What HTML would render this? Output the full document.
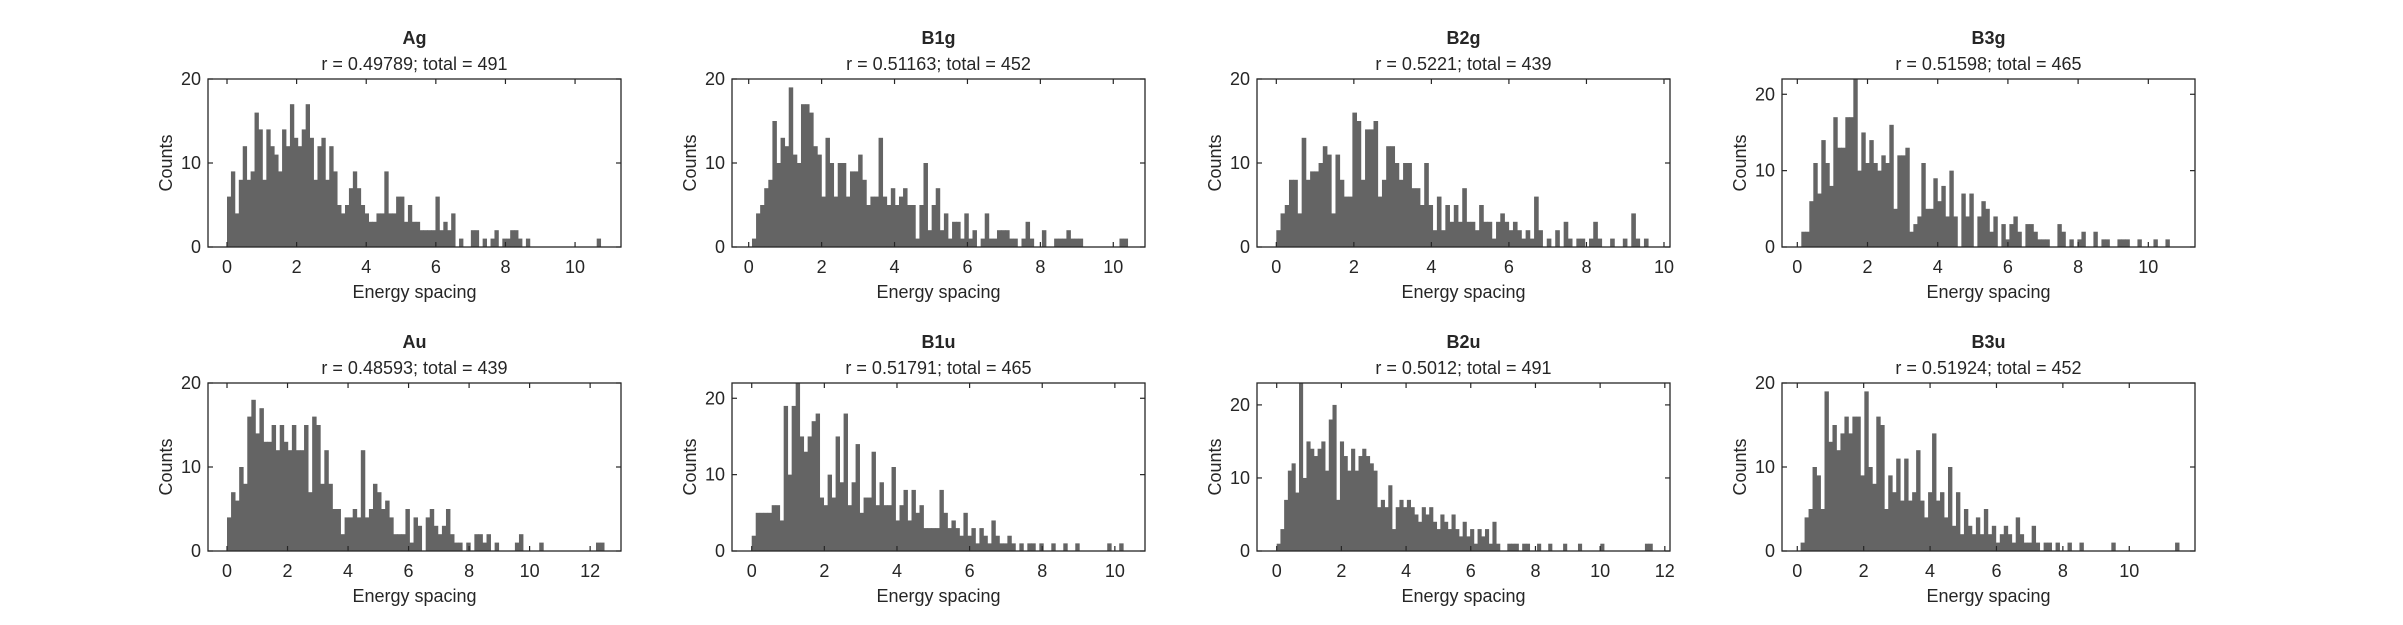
<!DOCTYPE html>
<html><head><meta charset="utf-8">
<style>
html,body{margin:0;padding:0;background:#fff;}
svg{display:block;}
text{font-family:"Liberation Sans",Arial,sans-serif;fill:#262626;}
</style></head>
<body>
<svg id="fig" width="2403" height="625" viewBox="0 0 2403 625" xmlns="http://www.w3.org/2000/svg"></svg>
<script>
// ---- data ----
const panelNames = ["Ag","B1g","B2g","B3g","Au","B1u","B2u","B3u"];
const subtitles = ["r = 0.49789; total = 491","r = 0.51163; total = 452","r = 0.5221; total = 439","r = 0.51598; total = 465",
                   "r = 0.48593; total = 439","r = 0.51791; total = 465","r = 0.5012; total = 491","r = 0.51924; total = 452"];
const binStart = [0, 0.09, 0, 0.114, 0, 0, 0, 0.1];
const binWidth = [0.113, 0.112, 0.109, 0.114, 0.134, 0.11, 0.115, 0.12];
const xMin = [-0.546, -0.458, -0.498, -0.436, -0.628, -0.543, -0.609, -0.46];
const xMax = [11.32, 10.87, 10.155, 11.33, 13.02, 10.83, 12.16, 11.98];
const yMax = [20, 20, 20, 22, 20, 22, 23, 20];
const countsAg = [6,9,4,8,12,8,9,16,14,8,14,12,11,9,14,12,17,13,12,14,17,13,8,12,13,8,12,9,5,4,5,7,9,7,5,4,3,3,4,4,9,4,4,6,6,3,5,3,3,2,2,2,2,6,2,3,2,4,0,1,0,0,2,2,0,1,0,1,2,0,1,1,2,2,1,0,1,0,0,0,0,0,0,0,0,0,0,0,0,0,0,0,0,0,1];
const countsB1g = [1,4,5,7,8,15,10,13,12,19,11,10,17,17,16,12,11,6,13,10,6,10,10,6,9,9,11,8,5,6,6,13,6,5,7,5,6,7,5,5,1,5,10,2,5,7,2,4,1,3,3,1,4,1,2,0,1,4,1,1,2,2,2,1,1,0,1,3,1,0,0,2,0,0,1,1,1,2,1,1,1,0,0,0,0,0,0,0,0,0,1,1];
const countsB2g = [2,4,5,8,8,4,13,8,9,9,10,12,11,4,11,8,6,6,16,15,8,14,14,15,6,8,12,12,10,8,10,10,7,7,5,10,5,2,6,2,5,3,5,3,7,3,3,2,5,3,3,1,3,4,3,2,3,2,1,2,1,6,2,0,1,0,2,0,3,1,0,1,1,0,1,3,1,0,0,1,0,0,1,0,4,1,0,1];
const countsB3g = [2,2,6,11,7,14,11,8,17,13,13,17,17,22,10,15,11,14,11,10,12,11,16,5,12,12,13,2,3,4,11,5,5,9,6,8,4,10,4,0,7,4,7,0,4,6,5,2,4,0,3,1,3,4,2,0,3,3,2,1,1,1,0,0,3,2,0,1,0,1,2,0,0,2,0,1,1,0,0,1,1,1,0,0,1,0,0,0,1,0,0,1];
const countsAu = [4,7,6,10,8,16,18,14,17,13,13,15,12,15,13,12,15,12,12,15,7,16,15,8,12,8,5,5,2,4,4,5,4,12,4,5,8,7,5,6,4,2,2,2,5,1,4,3,0,4,5,3,2,3,5,2,1,1,0,1,0,2,2,1,2,0,1,0,0,0,0,1,2,0,0,0,0,1,0,0,0,0,0,0,0,0,0,0,0,0,0,1,1];
const countsB1u = [2,5,5,5,5,6,6,4,19,10,19,22,15,13,15,17,18,7,6,10,7,15,9,18,6,9,14,5,7,7,13,6,9,6,6,11,4,6,8,4,8,5,6,3,3,3,3,8,5,3,4,3,2,5,2,3,1,3,2,1,4,2,1,1,2,1,0,1,0,1,1,0,1,0,0,1,0,0,1,0,0,1,0,0,0,0,0,0,0,1,0,0,1];
const countsB2u = [1,3,7,11,12,8,23,10,15,14,13,14,15,11,18,20,7,15,13,11,14,11,13,14,13,12,11,6,7,6,9,3,6,7,6,7,6,5,4,6,5,6,4,3,5,4,3,5,3,2,4,2,3,1,3,2,3,1,4,1,0,0,1,1,1,0,1,1,0,0,1,0,0,1,0,0,0,1,0,0,0,1,0,0,0,0,0,1,0,0,0,0,0,0,0,0,0,0,0,1,1];
const countsB3u = [1,4,5,10,9,5,19,13,15,12,14,16,14,16,16,9,19,10,8,16,15,5,9,7,11,6,11,6,7,12,6,4,7,14,6,7,4,10,3,7,2,5,3,2,4,2,5,2,3,1,2,3,2,1,4,2,1,1,3,1,0,1,1,0,1,0,0,1,0,0,1,0,0,0,0,0,0,0,1,0,0,0,0,0,0,0,0,0,0,0,0,0,0,0,1];
const allCounts = [countsAg,countsB1g,countsB2g,countsB3g,countsAu,countsB1u,countsB2u,countsB3u];
const yTicks = [0,10,20];

// ---- layout ----
const colLeft = [208, 732, 1257, 1782];
const rowTop = [79, 383];
const AW = 413, AH = 168;
const NS = "http://www.w3.org/2000/svg";
const svg = document.getElementById('fig');
function mk(tag, attrs, parent){
  const e = document.createElementNS(NS, tag);
  for (const k in attrs) e.setAttribute(k, attrs[k]);
  (parent||svg).appendChild(e);
  return e;
}
function slug(s){return s.toLowerCase();}

panelNames.forEach((name, p) => {
  const L = colLeft[p % 4], T = rowTop[Math.floor(p / 4)];
  const B = T + AH, R = L + AW;
  const xs = v => L + (v - xMin[p]) / (xMax[p] - xMin[p]) * AW;
  const ys = v => B - v / yMax[p] * AH;
  const g = mk('g', {});
  
  

  const counts = allCounts[p];
  counts.forEach((c, i) => {
    if (c <= 0) return;
    const x0 = xs(binStart[p] + i * binWidth[p]);
    const x1 = xs(binStart[p] + (i + 1) * binWidth[p]);
    const r = mk('rect', {x: x0, y: ys(c), width: Math.max(0.5, x1 - x0 + 0.4), height: B - ys(c), fill: '#646464'}, g);
    
    
  });

  const box = mk('rect', {x: L, y: T, width: AW, height: AH, fill: 'none', stroke: '#262626', 'stroke-width': 1.3}, g);
  
  

  for (let v = 0; v <= xMax[p]; v += 2) {
    const x = xs(v);
    mk('line', {x1: x, y1: B, x2: x, y2: B - 5, stroke: '#262626', 'stroke-width': 1.2}, g);
    mk('line', {x1: x, y1: T, x2: x, y2: T + 5, stroke: '#262626', 'stroke-width': 1.2}, g);
    const t = mk('text', {x: x, y: B + 26, 'font-size': 18, 'text-anchor': 'middle'}, g);
    t.textContent = v;
    
    
  }
  yTicks.forEach(v => {
    if (v > yMax[p]) return;
    const y = ys(v);
    mk('line', {x1: L, y1: y, x2: L + 5, y2: y, stroke: '#262626', 'stroke-width': 1.2}, g);
    mk('line', {x1: R, y1: y, x2: R - 5, y2: y, stroke: '#262626', 'stroke-width': 1.2}, g);
    const t = mk('text', {x: L - 7, y: y + 6, 'font-size': 18, 'text-anchor': 'end'}, g);
    t.textContent = v;
    
    
  });

  const xl = mk('text', {x: L + AW / 2, y: B + 51, 'font-size': 18, 'text-anchor': 'middle'}, g);
  xl.textContent = 'Energy spacing';
  
  
  const yl = mk('text', {x: 0, y: 0, 'font-size': 18, 'text-anchor': 'middle', transform: 'translate(' + (L - 36) + ',' + (T + AH / 2) + ') rotate(-90)'}, g);
  yl.textContent = 'Counts';
  
  
  const tt = mk('text', {x: L + AW / 2, y: T - 35, 'font-size': 18, 'font-weight': 'bold', 'text-anchor': 'middle', fill: '#000'}, g);
  tt.textContent = name;
  
  
  const st = mk('text', {x: L + AW / 2, y: T - 9, 'font-size': 18, 'text-anchor': 'middle', fill: '#000'}, g);
  st.textContent = subtitles[p];
  
  
});
</script>
</body></html>
